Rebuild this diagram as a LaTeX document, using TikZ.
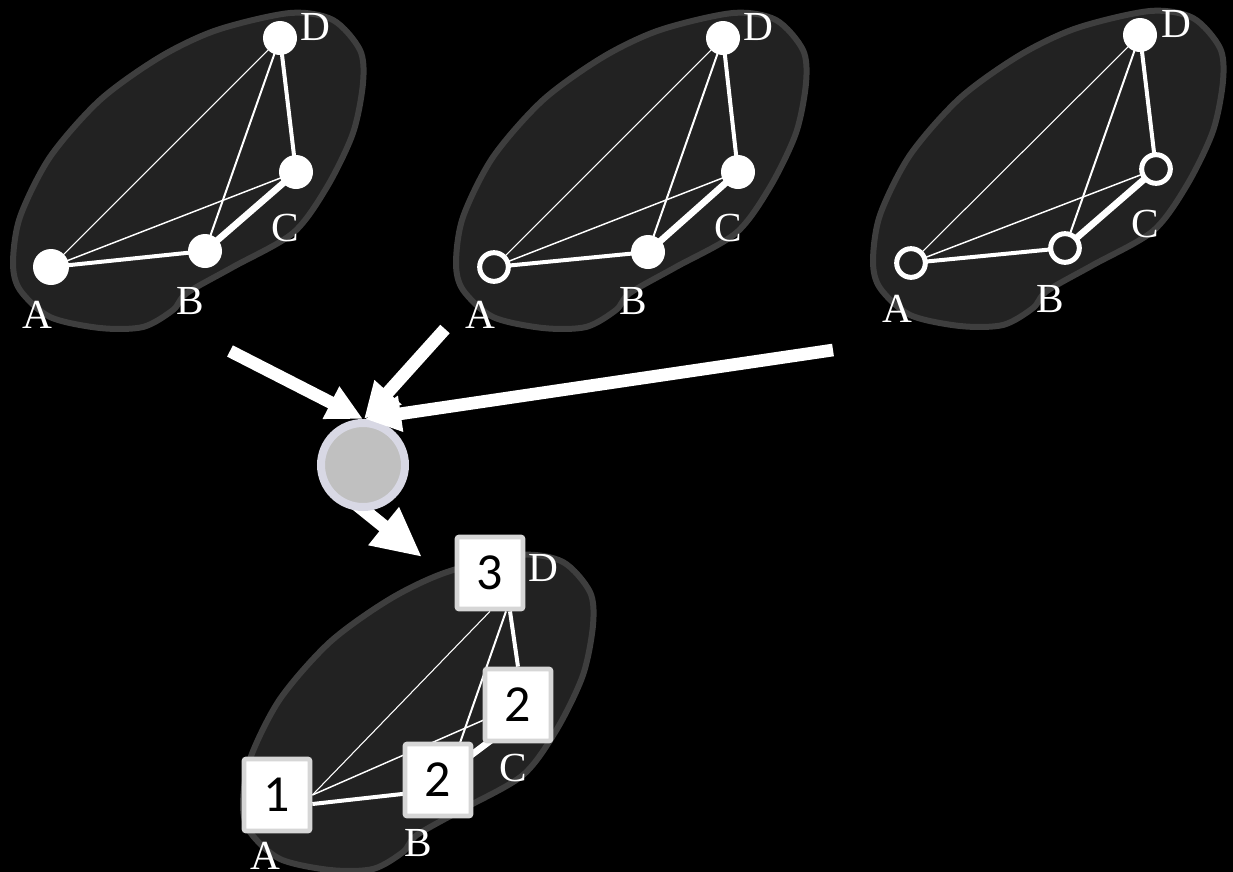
\documentclass[tikz,border=0pt]{standalone}
\usepackage{fontspec}
\setmainfont{Liberation Serif}
\newfontfamily\digitfont{Carlito}
\usetikzlibrary{arrows.meta,calc}
\pgfdeclarelayer{bg}
\pgfdeclarelayer{edges}
\pgfsetlayers{bg,edges,main}
\definecolor{blobfill}{HTML}{222222}
\definecolor{blobline}{HTML}{3E3E3E}
\definecolor{hubfill}{HTML}{C0C0C0}
\definecolor{hubline}{HTML}{D8D8E4}
\definecolor{sqline}{HTML}{D6D6D6}
\tikzset{
  blobshape/.pic={
    \draw[fill=blobfill, draw=blobline, line width=4.5pt]
      plot[smooth cycle] coordinates {(290,13) (333,20) (360,50) (363,83) (353,133)
        (327,187) (293,233) (233,267) (187,293) (173,310) (143,327) (100,328)
        (50,317) (20,290) (13,263) (20,217) (50,157) (100,100) (160,57) (217,30)};
  },
  fnode/.style={circle, fill=white, inner sep=0pt, minimum size=25.5pt},
  fnodeA/.style={fnode, minimum size=27pt},
  rnode/.style={circle, draw=white, fill=blobfill, line width=3.75pt, inner sep=0pt, minimum size=21.5pt},
  lab/.style={text=white, inner sep=0pt, font=\fontsize{31}{31}\selectfont},
  sq/.style={draw=sqline, fill=white, line width=3.5pt, minimum width=49.5pt,
    minimum height=54pt, inner sep=0pt, rounded corners=1.5pt,
    font=\digitfont\fontsize{39}{39}\selectfont},
  eAD/.style={white, line width=0.8pt},
  eAC/.style={white, line width=1.1pt},
  eBD/.style={white, line width=1.5pt},
  eAB/.style={white, line width=3pt},
  eCD/.style={white, line width=3pt},
  eBC/.style={white, line width=5pt},
  bigarrow/.style={white, line width=9.5pt, -{Triangle[length=27pt,width=25.5pt]}},
  bigarrowB/.style={white, line width=10pt, -{Triangle[length=37pt,width=34pt]}},
  hubstyle/.style={circle, fill=hubfill, draw=hubline, line width=6pt, minimum size=63pt, inner sep=0pt}
}
\begin{document}
\begin{tikzpicture}[x=0.75pt,y=-0.75pt]
\useasboundingbox (0,0) rectangle (1233,872);
\clip (0,0) rectangle (1233,872);
\begin{pgfonlayer}{bg}
  \fill[black] (0,0) rectangle (1233,872);
  \pic at (0,0) {blobshape};
  \pic at (443,0) {blobshape};
  \pic at (860,-2) {blobshape};
  \pic at (230,542) {blobshape};
\end{pgfonlayer}

% panel 1
\node[fnodeA] (a1) at (51,267) {};
\node[fnode] (b1) at (205,251) {};
\node[fnode] (c1) at (296,172) {};
\node[fnode] (d1) at (280,38) {};
\node[lab] (la1) at (37,315) {A};
\node[lab] (lb1) at (190,301) {B};
\node[lab] (lc1) at (285,228) {C};
\node[lab] (ld1) at (315,27) {D};

% panel 2
\node[rnode] (a2) at (494,267) {};
\node[fnode] (b2) at (648,252) {};
\node[fnode] (c2) at (738,172) {};
\node[fnode] (d2) at (723,38) {};
\node[lab] (la2) at (480,315) {A};
\node[lab] (lb2) at (633,301) {B};
\node[lab] (lc2) at (728,228) {C};
\node[lab] (ld2) at (758,27) {D};

% panel 3
\node[rnode] (a3) at (911,263) {};
\node[rnode] (b3) at (1065,248) {};
\node[rnode] (c3) at (1156,169) {};
\node[fnode] (d3) at (1140,35) {};
\node[lab] (la3) at (897,309) {A};
\node[lab] (lb3) at (1050,299) {B};
\node[lab] (lc3) at (1145,224) {C};
\node[lab] (ld3) at (1176,24) {D};

% hub
\node[hubstyle] (hub) at (363,465) {};

% bottom panel
\node[sq] (qa) at (277,795) {1};
\node[sq] (qb) at (438,780) {2};
\node[sq] (qc) at (518,705) {2};
\node[sq] (qd) at (490,573) {3};
\node[lab] (la4) at (265,856) {A};
\node[lab] (lb4) at (418,843) {B};
\node[lab] (lc4) at (513,768) {C};
\node[lab] (ld4) at (543,568) {D};

\coordinate (s1) at (230,351);
\coordinate (s2) at (445,329);
\coordinate (s3) at (833,350);
\coordinate (t4) at (422,557);

\begin{pgfonlayer}{edges}
  \foreach \i in {1,2,3}{
    \draw[eAD] (a\i.center) -- (d\i.center);
    \draw[eAC] (a\i.center) -- (c\i.center);
    \draw[eBD] (b\i.center) -- (d\i.center);
    \draw[eAB] (a\i.center) -- (b\i.center);
    \draw[eCD] (c\i.center) -- (d\i.center);
    \draw[eBC] (b\i.center) -- (c\i.center);
  }
  \draw[eAD] (qa.east) -- (qd.south);
  \draw[eAC] (qa.east) -- (qc.center);
  \draw[eAB] ($(qa.east)+(0,9)$) -- ($(qb.center)+(0,10)$);
  \draw[eBC] (qb.center) -- ($(qc.center)+(0,15)$);
  \draw[eBD] ($(qb.center)+(9,0)$) -- ($(qd.south)+(16,0)$);
  \draw[eCD] (qc.north) -- ($(qd.south)+(20,0)$);
  \draw[bigarrowB] ($(hub.center)+(-18,30)$) -- (t4);
\end{pgfonlayer}

\draw[bigarrow] (s3) -- ($(hub.north)+(2,0)$);
\draw[bigarrow] (s2) -- ($(hub.north)+(1,0)$);
\draw[bigarrow] (s1) -- (hub.north);
\end{tikzpicture}
\end{document}
